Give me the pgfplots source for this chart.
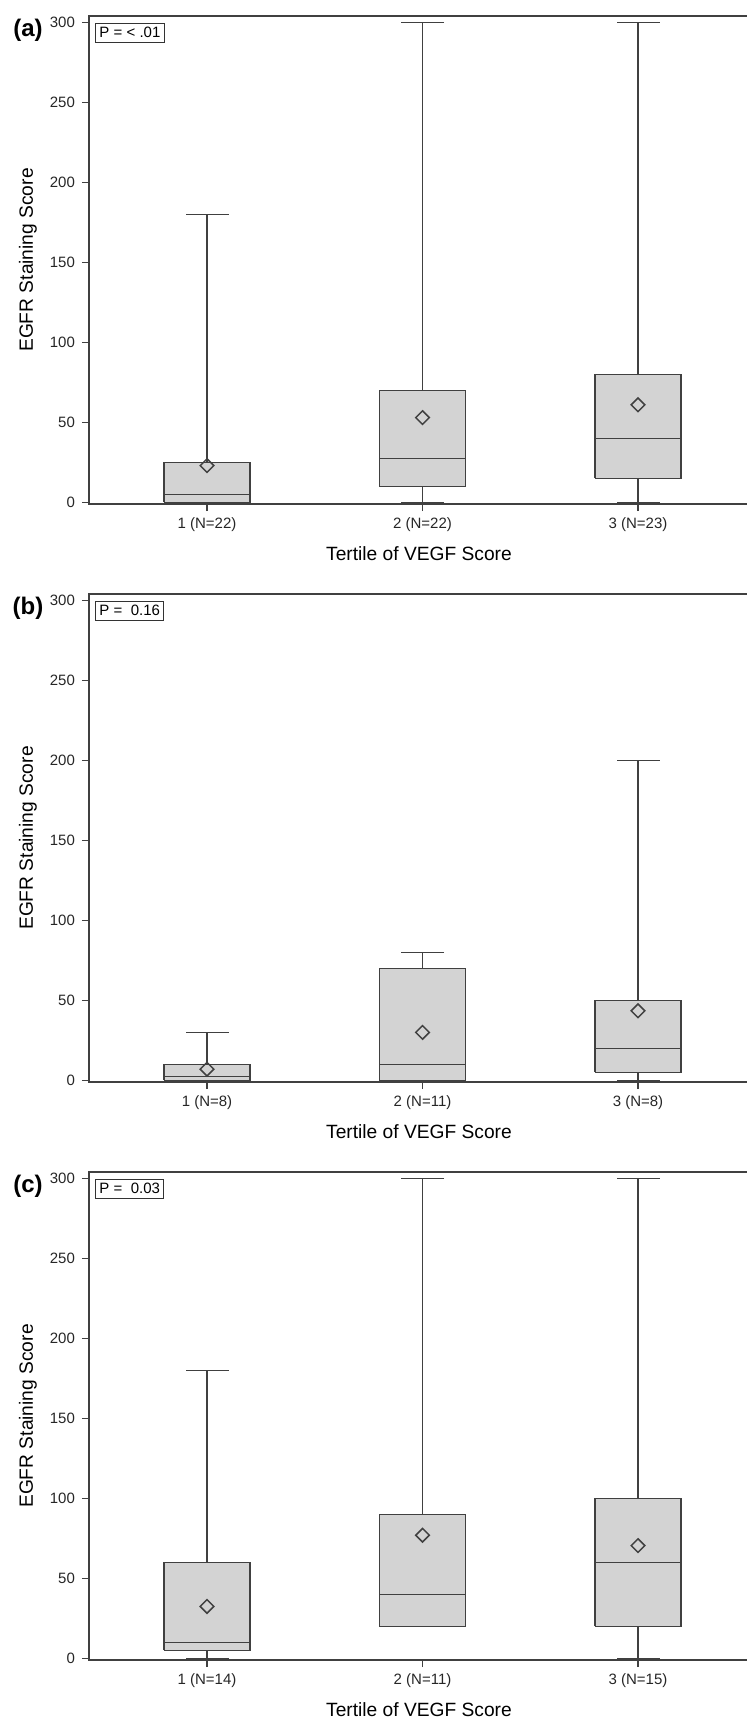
\documentclass[border=0pt]{standalone}
\usepackage{fontspec}
\setmainfont{Liberation Sans}
\usepackage{pgfplots}
\pgfplotsset{compat=1.18}
\definecolor{boxfill}{HTML}{D3D3D3}
\definecolor{lin}{HTML}{404040}
\pgfplotsset{
  panel/.style={
    scale only axis, width=330pt, height=244pt,
    xmin=0.4524, xmax=3.515, ymin=-1, ymax=304,
    axis line style={lin, line width=0.9pt},
    xtick={1,2,3}, ytick={0,50,100,150,200,250,300},
    tick pos=left,
    tick align=outside, major tick length=3.5pt,
    tick style={lin, line width=0.6pt},
    ticklabel style={font=\fontsize{7.5}{8.5}\selectfont, text=black!85},
    /pgf/number format/assume math mode=true,
    xlabel={Tertile of VEGF Score}, ylabel={EGFR Staining Score},
    every axis x label/.style={at={(axis description cs:0.5,0)}, anchor=base, yshift=-28pt, font=\fontsize{9.6}{11}\selectfont},
    every axis y label/.style={at={(axis description cs:0,0.5)}, xshift=-30.5pt, rotate=90, anchor=center, font=\fontsize{9.6}{11}\selectfont},
    clip=false,
  },
  whisk/.style={draw=lin, line width=0.75pt, mark=-, mark size=10.75pt, mark options={line width=0.75pt, draw=lin}},
  bx/.style={draw=lin, fill=boxfill, line width=0.75pt, mark=none},
  medl/.style={draw=lin, line width=0.75pt, mark=none},
  avg/.style={only marks, mark=square, mark size=2.4pt, mark options={rotate=45, draw=lin, line width=0.75pt}},
}
\tikzset{pbox/.style={draw=black!80, line width=0.5pt, anchor=north west, inner sep=2pt, xshift=3pt, yshift=-3.5pt, font=\fontsize{7.5}{8.5}\selectfont}}
% #1 left, #2 centre, #3 right, #4 lower whisker, #5 lower quartile, #6 median, #7 upper quartile, #8 upper whisker, #9 mean
\newcommand\bxp[9]{%
  \addplot[whisk] coordinates {(#2,#4) (#2,#8)};
  \addplot[bx] coordinates {(#1,#5) (#3,#5) (#3,#7) (#1,#7) (#1,#5)};
  \addplot[medl] coordinates {(#1,#6) (#3,#6)};
  \addplot[avg] coordinates {(#2,#9)};
}
\begin{document}
\begin{tikzpicture}
\path[use as bounding box] (0,0) rectangle (373.5pt,-859pt);
% (a)
\node[font=\bfseries\fontsize{12}{14}\selectfont] at (14pt,-15pt) {(a)};
\begin{axis}[panel, at={(44.5pt,-252pt)}, anchor=south west, xticklabels={1 (N=22),2 (N=22),3 (N=23)}]
\bxp{0.8}{1}{1.2}{0}{0}{5}{25}{180}{23}
\bxp{1.8}{2}{2.2}{0}{10}{27.5}{70}{300}{53}
\bxp{2.8}{3}{3.2}{0}{15}{40}{80}{300}{61}
\node[pbox] at (rel axis cs:0,1) {P = < .01};
\end{axis}
% (b)
\node[font=\bfseries\fontsize{12}{14}\selectfont] at (14pt,-304pt) {(b)};
\begin{axis}[panel, at={(44.5pt,-541pt)}, anchor=south west, xticklabels={1 (N=8),2 (N=11),3 (N=8)}]
\bxp{0.8}{1}{1.2}{0}{0}{2.5}{10}{30}{7}
\bxp{1.8}{2}{2.2}{0}{0}{10}{70}{80}{30}
\bxp{2.8}{3}{3.2}{0}{5}{20}{50}{200}{43.5}
\node[pbox] at (rel axis cs:0,1) {P = \ 0.16};
\end{axis}
% (c)
\node[font=\bfseries\fontsize{12}{14}\selectfont] at (14pt,-593pt) {(c)};
\begin{axis}[panel, at={(44.5pt,-830pt)}, anchor=south west, xticklabels={1 (N=14),2 (N=11),3 (N=15)}]
\bxp{0.8}{1}{1.2}{0}{5}{10}{60}{180}{32.5}
\bxp{1.8}{2}{2.2}{20}{20}{40}{90}{300}{77}
\bxp{2.8}{3}{3.2}{0}{20}{60}{100}{300}{70.5}
\node[pbox] at (rel axis cs:0,1) {P = \ 0.03};
\end{axis}
\end{tikzpicture}
\end{document}
